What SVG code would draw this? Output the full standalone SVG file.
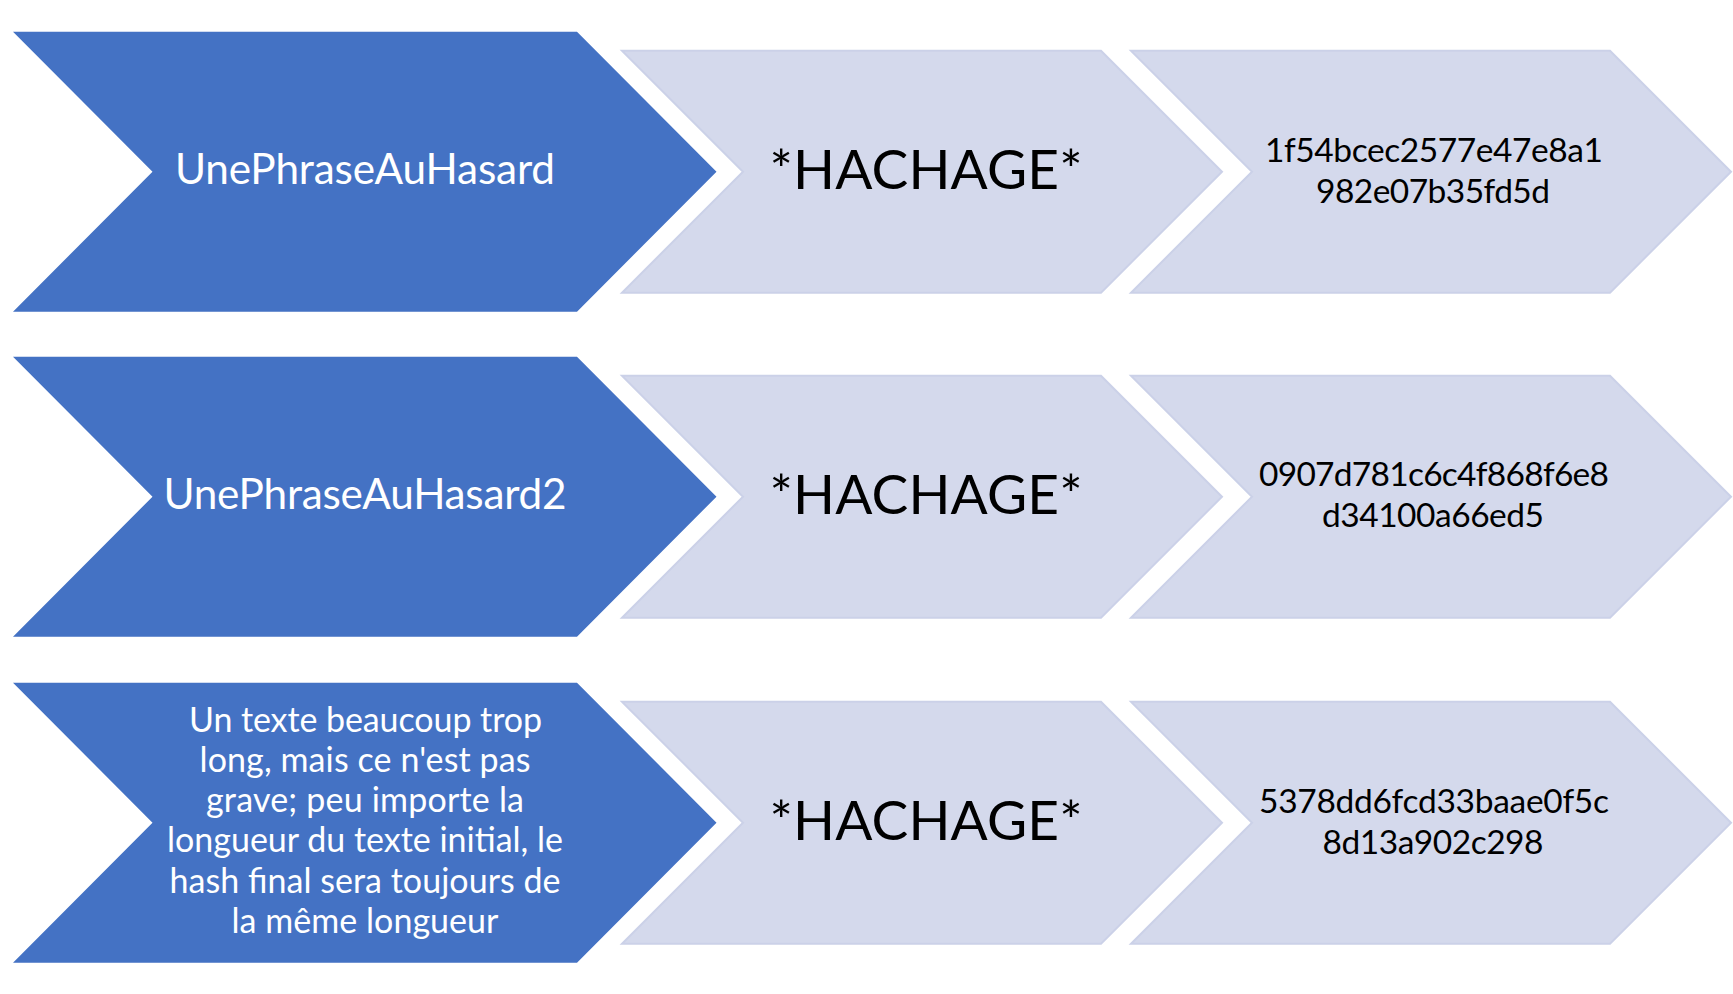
<svg xmlns="http://www.w3.org/2000/svg" width="1733" height="994" viewBox="0 0 1733 994">
<style>
.blue{fill:#4472C4}
.light{fill:#D4D9EC;stroke:#CBD1E8;stroke-width:2}
text{font-family:Lato,"Noto Sans",sans-serif;text-anchor:middle}
.tw{fill:#FFFFFF;font-size:42.3px}
.tm{fill:#FFFFFF;font-size:34px}
.th{fill:#000000;font-size:55px}
.tx{fill:#000000;font-size:33.5px}
</style>
<rect width="1733" height="994" fill="#FFFFFF"/>
<g id="connectors"/>
<g id="row1-input">
<polygon class="blue" points="13,31.7 577,31.7 716.5,171.7 577,311.7 13,311.7 152.5,171.7"/>
<text class="tw" x="365" y="183.5" textLength="380">UnePhraseAuHasard</text>
</g>
<g id="row1-hash">
<polygon class="light" points="622,50.7 1101,50.7 1222,171.7 1101,292.7 622,292.7 743,171.7"/>
<text class="th" x="926" y="189.3" textLength="313">*HACHAGE*</text>
</g>
<g id="row1-output">
<polygon class="light" points="1131,50.7 1610,50.7 1731,171.7 1610,292.7 1131,292.7 1252,171.7"/>
<text class="tx" x="1434" y="161.5" textLength="338">1f54bcec2577e47e8a1</text>
<text class="tx" x="1433" y="202.5" textLength="234">982e07b35fd5d</text>
</g>
<g id="row2-input">
<polygon class="blue" points="13,356.7 577,356.7 716.5,496.7 577,636.7 13,636.7 152.5,496.7"/>
<text class="tw" x="365" y="508.8" textLength="403">UnePhraseAuHasard2</text>
</g>
<g id="row2-hash">
<polygon class="light" points="622,375.7 1101,375.7 1222,496.7 1101,617.7 622,617.7 743,496.7"/>
<text class="th" x="926" y="514.3" textLength="313">*HACHAGE*</text>
</g>
<g id="row2-output">
<polygon class="light" points="1131,375.7 1610,375.7 1731,496.7 1610,617.7 1131,617.7 1252,496.7"/>
<text class="tx" x="1434" y="486" textLength="350">0907d781c6c4f868f6e8</text>
<text class="tx" x="1433" y="526.5" textLength="222">d34100a66ed5</text>
</g>
<g id="row3-input">
<polygon class="blue" points="13,682.7 577,682.7 716.5,822.7 577,962.7 13,962.7 152.5,822.7"/>
<text class="tm" x="365.5" y="731.7" textLength="353">Un texte beaucoup trop</text>
<text class="tm" x="365" y="771.9" textLength="331">long, mais ce n'est pas</text>
<text class="tm" x="365" y="812.1" textLength="318">grave; peu importe la</text>
<text class="tm" x="365" y="852.3" textLength="396">longueur du texte initial, le</text>
<text class="tm" x="365" y="892.5" textLength="391">hash final sera toujours de</text>
<text class="tm" x="365" y="932.7" textLength="267">la même longueur</text>
</g>
<g id="row3-hash">
<polygon class="light" points="622,701.7 1101,701.7 1222,822.7 1101,943.7 622,943.7 743,822.7"/>
<text class="th" x="926" y="840.3" textLength="313">*HACHAGE*</text>
</g>
<g id="row3-output">
<polygon class="light" points="1131,701.7 1610,701.7 1731,822.7 1610,943.7 1131,943.7 1252,822.7"/>
<text class="tx" x="1434" y="812.5" textLength="350">5378dd6fcd33baae0f5c</text>
<text class="tx" x="1433" y="853.5" textLength="221">8d13a902c298</text>
</g>
</svg>
